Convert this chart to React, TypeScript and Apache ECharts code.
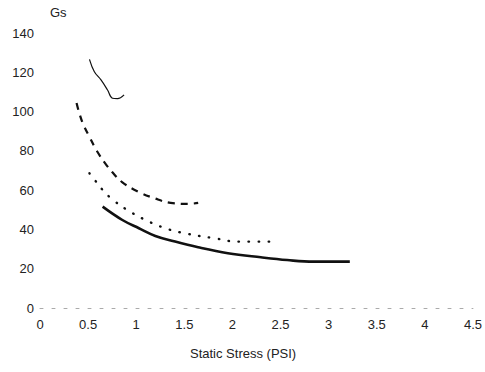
import React, { useEffect, useRef } from "react";
import * as echarts from "echarts";

const xTicks = [0, 0.5, 1, 1.5, 2, 2.5, 3, 3.5, 4, 4.5];
const yTicks = [0, 20, 40, 60, 80, 100, 120, 140];

const thinX = [0.514, 0.565, 0.634, 0.702, 0.753, 0.805, 0.874];
const thinY = [126.6, 120.3, 116.1, 111.0, 106.8, 106.6, 108.5];

const dashX = [0.38, 0.411, 0.452, 0.514, 0.586, 0.668, 0.75, 0.853, 1.028, 1.182, 1.357, 1.542, 1.644];
const dashY = [104.4, 98.8, 93.2, 87.1, 80.4, 74.3, 69.2, 64.1, 59.0, 56.0, 53.5, 53.0, 53.5];

const dotX = [0.514, 0.583, 0.651, 0.737, 0.907, 1.097, 1.302, 1.508, 1.816, 2.056, 2.433];
const dotY = [68.6, 64.3, 60.1, 55.9, 49.9, 44.8, 40.6, 38.0, 35.5, 33.8, 33.8];

const thickX = [0.651, 0.856, 1.028, 1.199, 1.404, 1.644, 1.953, 2.295, 2.569, 2.844, 3.22];
const thickY = [51.6, 44.8, 40.6, 36.7, 33.8, 30.9, 27.9, 25.8, 24.4, 23.6, 23.6];

const zip = (xs: number[], ys: number[]) => xs.map((x, i) => [x, ys[i]]);

export default function App() {
  const ref = useRef<HTMLDivElement>(null);
  useEffect(() => {
    if (!ref.current) return;
    const chart = echarts.init(ref.current, undefined, { renderer: "svg" });
    const font = "Liberation Sans, Arial, sans-serif";
    const common = { type: "line", smooth: 0.4, showSymbol: false, silent: true };
    chart.setOption({
      animation: false,
      backgroundColor: "#ffffff",
      grid: { left: 40, right: 7, top: 33, bottom: 64 },
      xAxis: {
        type: "value",
        min: 0,
        max: 4.5,
        interval: 0.5,
        axisLine: { show: true, lineStyle: { color: "#aaa", type: [3, 9], width: 1 } },
        axisTick: { show: false },
        splitLine: { show: false },
        axisLabel: {
          color: "#222",
          fontSize: 13,
          fontFamily: font,
          margin: 10,
          formatter: (v: number) => (xTicks.includes(v) ? String(v) : ""),
        },
      },
      yAxis: {
        type: "value",
        min: 0,
        max: 140,
        interval: 20,
        axisLine: { show: false },
        axisTick: { show: false },
        splitLine: { show: false },
        axisLabel: {
          color: "#222",
          fontSize: 13,
          fontFamily: font,
          margin: 6,
          formatter: (v: number) => (yTicks.includes(v) ? String(v) : ""),
        },
      },
      graphic: [
        {
          type: "text",
          left: 50,
          top: 6,
          style: { text: "Gs", fill: "#222", font: `13px ${font}` },
        },
        {
          type: "text",
          left: 190,
          top: 347,
          style: { text: "Static Stress (PSI)", fill: "#222", font: `13px ${font}` },
        },
      ],
      series: [
        { ...common, data: zip(thinX, thinY), lineStyle: { color: "#111", width: 1.2 } },
        { ...common, data: zip(dashX, dashY), lineStyle: { color: "#111", width: 2.2, type: [7, 6] } },
        {
          ...common,
          data: zip(dotX, dotY),
          lineStyle: { color: "#111", width: 2.4, type: [0.5, 9.5], cap: "round" },
        },
        { ...common, data: zip(thickX, thickY), lineStyle: { color: "#111", width: 2.6 } },
      ],
    });
    return () => chart.dispose();
  }, []);
  return <div ref={ref} style={{ width: 485, height: 372, position: "absolute", left: 0, top: 0 }} />;
}
